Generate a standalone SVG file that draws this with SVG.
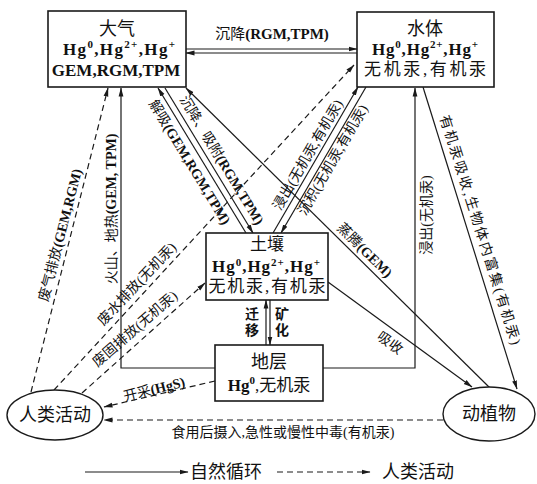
<svg xmlns="http://www.w3.org/2000/svg" width="537" height="484" viewBox="0 0 537 484">
<defs>
<marker id="ah" markerWidth="9" markerHeight="6" refX="8.5" refY="3" orient="auto" markerUnits="userSpaceOnUse"><path d="M0,0.6 L9,3 L0,5.4 z" fill="#1a1a1a"/></marker>
<style>
.bx{fill:#fff;stroke:#1a1a1a;stroke-width:1.6}
.el{fill:#fff;stroke:#1a1a1a;stroke-width:1.4}
.ln{fill:none;stroke:#1a1a1a;stroke-width:1.2}
.ar{marker-end:url(#ah)}
.ds{stroke-dasharray:6 4}
text{font-family:"Liberation Serif","Noto Sans CJK SC",serif;fill:#111}
.bt{font-size:17px}
.tt{font-size:18px}
.lb{font-size:14px}
.b{font-weight:bold}
.c{text-anchor:middle}
.m{dominant-baseline:central}
</style>
</defs>
<rect width="537" height="484" fill="#fff"/>

<g id="connectors">
<line class="ln ar" x1="186" y1="49" x2="357" y2="49"/>
<line class="ln ar" x1="357" y1="53" x2="186" y2="53"/>
<line class="ln ar" x1="246" y1="233" x2="158" y2="88"/>
<line class="ln ar" x1="165" y1="88" x2="253" y2="233"/>
<line class="ln ar" x1="273" y1="233" x2="358" y2="87"/>
<line class="ln ar" x1="366" y1="87" x2="281" y2="233"/>
<line class="ln ar" x1="490" y1="388" x2="186" y2="88"/>
<line class="ln ar" x1="328" y1="282" x2="472" y2="387"/>
<line class="ln ar" x1="423" y1="87" x2="517" y2="389"/>
<polyline class="ln ar" points="215,368 121,368 121,88"/>
<polyline class="ln ar" points="323,368 415,368 415,88"/>
<line class="ln ar" x1="266" y1="345" x2="266" y2="300"/>
<line class="ln ar" x1="270" y1="300" x2="270" y2="345"/>
<line class="ln ar ds" x1="31" y1="392" x2="108" y2="88"/>
<line class="ln ar ds" x1="54" y1="390" x2="354" y2="65"/>
<line class="ln ar ds" x1="82" y1="393" x2="205" y2="283"/>
<line class="ln ar ds" x1="215" y1="381" x2="104" y2="407"/>
<line class="ln ar ds" x1="443" y1="420" x2="104" y2="420"/>

<text class="c" font-size="15" x="272" y="39"><tspan>沉降</tspan><tspan class="b">(RGM,TPM)</tspan></text>
<text class="lb c m" transform="translate(60,235) rotate(-75.4)"><tspan>废气排放</tspan><tspan class="b">(GEM,RGM)</tspan></text>
<text class="lb c m" transform="translate(111,209) rotate(-90)"><tspan>火山、地热</tspan><tspan class="b">(GEM, TPM)</tspan></text>
<text class="lb c m" transform="translate(137,284) rotate(-46.7)">废水排放(无机汞)</text>
<text class="lb c m" transform="translate(135,329) rotate(-41)">废固排放(无机汞)</text>
<text class="lb c m" transform="translate(154,389) rotate(-14)"><tspan>开采</tspan><tspan class="b">(HgS)</tspan></text>
<text class="lb c m" transform="translate(190,162) rotate(58.7)"><tspan>解吸</tspan><tspan class="b">(GEM,RGM,TPM)</tspan></text>
<text class="lb c m" transform="translate(222,160) rotate(58.7)"><tspan>沉降、吸附</tspan><tspan class="b">(RGM,TPM)</tspan></text>
<text class="lb c m" transform="translate(308,155) rotate(-59.8)">浸出(无机汞,有机汞)</text>
<text class="lb c m" transform="translate(333,160) rotate(-59.8)">沉积(无机汞,有机汞)</text>
<text class="lb c m" transform="translate(365,250) rotate(44.6)"><tspan>蒸腾</tspan><tspan class="b">(GEM)</tspan></text>
<text class="lb c m" transform="translate(390,343) rotate(36)">吸收</text>
<text class="lb c m" transform="translate(426,215) rotate(-90)">浸出(无机汞)</text>
<text class="lb c m" transform="translate(480,230) rotate(72.5)" textLength="240" lengthAdjust="spacing">有机汞吸收,生物体内富集(有机汞)</text>
<text class="lb b" x="245" y="319">迁</text>
<text class="lb b" x="245" y="335">移</text>
<text class="lb b" x="275" y="319">矿</text>
<text class="lb b" x="275" y="335">化</text>
<text class="lb c" x="283" y="437">食用后摄入,急性或慢性中毒(有机汞)</text>
</g>

<g id="daqi">
<rect class="bx" x="48" y="11" width="138" height="76"/>
<text class="tt c" x="117" y="35">大气</text>
<text class="bt b c" x="119" y="55" textLength="112" lengthAdjust="spacing">Hg<tspan dy="-7" font-size="11">0</tspan><tspan dy="7">,Hg</tspan><tspan dy="-7" font-size="11">2+</tspan><tspan dy="7">,Hg</tspan><tspan dy="-7" font-size="11">+</tspan></text>
<text class="bt b c" x="116" y="76">GEM,RGM,TPM</text>
</g>

<g id="shuiti">
<rect class="bx" x="357" y="12" width="137" height="75"/>
<text class="tt c" x="425" y="35">水体</text>
<text class="bt b c" x="425" y="55" textLength="106" lengthAdjust="spacing">Hg<tspan dy="-7" font-size="11">0</tspan><tspan dy="7">,Hg</tspan><tspan dy="-7" font-size="11">2+</tspan><tspan dy="7">,Hg</tspan><tspan dy="-7" font-size="11">+</tspan></text>
<text class="bt c" x="425" y="75" textLength="122" lengthAdjust="spacing">无机汞,有机汞</text>
</g>

<g id="turang">
<rect class="bx" x="206" y="233" width="122" height="67"/>
<text class="bt c" x="267" y="250">土壤</text>
<text class="bt b c" x="266" y="272" textLength="108" lengthAdjust="spacing">Hg<tspan dy="-6" font-size="11">0</tspan><tspan dy="6">,Hg</tspan><tspan dy="-6" font-size="11">2+</tspan><tspan dy="6">,Hg</tspan><tspan dy="-6" font-size="11">+</tspan></text>
<text class="bt c" x="267" y="292" textLength="117" lengthAdjust="spacing">无机汞,有机汞</text>
</g>

<g id="diceng">
<rect class="bx" x="215" y="345" width="108" height="56"/>
<text class="tt c" x="269" y="368">地层</text>
<text class="bt c" x="269" y="391"><tspan class="b">Hg</tspan><tspan dy="-7" font-size="11" class="b">0</tspan><tspan dy="7">,无机汞</tspan></text>
</g>

<g id="renlei">
<ellipse class="el" cx="55" cy="415" rx="48" ry="25"/>
<text class="tt c" x="55" y="421">人类活动</text>
</g>

<g id="dongzhiwu">
<ellipse class="el" cx="489" cy="414" rx="46" ry="27"/>
<text class="tt c" x="489" y="420">动植物</text>
</g>

<g id="legend">
<line class="ln ar" x1="85" y1="472" x2="188" y2="472"/>
<text class="tt" x="190" y="478">自然循环</text>
<line class="ln ar ds" x1="277" y1="472" x2="370" y2="472"/>
<text class="tt" x="382" y="478">人类活动</text>
</g>
</svg>
